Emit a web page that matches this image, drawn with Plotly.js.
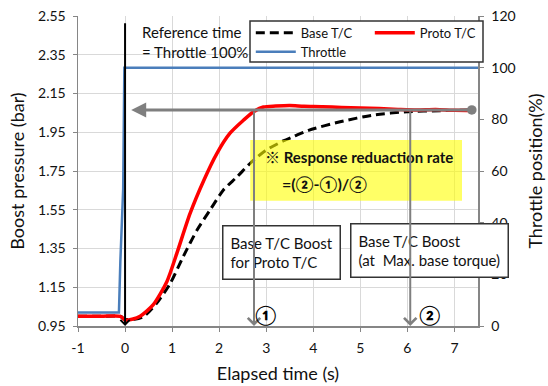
<!DOCTYPE html>
<html>
<head>
<meta charset="utf-8">
<script src="https://cdn.plot.ly/plotly-3.0.1.min.js"></script>
<style>html,body{margin:0;padding:0;background:#fff;}#chart{width:548px;height:386px;}</style>
</head>
<body>
<div id="chart"></div>
<script>
// Elapsed time (s) and boost pressure (bar) for each turbocharger
const baseTime  = [-1, -0.5, -0.1, 0, 0.2, 0.39, 0.67, 0.96, 1.24, 1.53, 1.81, 2.09, 2.38, 2.66, 2.98, 3.36, 3.6, 3.9, 4.57, 5.28, 6.0, 6.7, 7.4];
const baseBoost = [1.0, 1.0, 1.0, 0.985, 0.985, 0.998, 1.067, 1.17, 1.31, 1.445, 1.55, 1.652, 1.72, 1.79, 1.855, 1.905, 1.93, 1.96, 2.004, 2.039, 2.056, 2.061, 2.065];

const protoTime  = [-1, -0.5, -0.1, 0, 0.15, 0.32, 0.6, 0.89, 1.1, 1.38, 1.67, 1.95, 2.23, 2.52, 2.73, 2.94, 3.2, 3.5, 3.8, 4.2, 4.6, 5.0, 5.4, 5.8, 6.2, 6.6, 7.0, 7.4];
const protoBoost = [1.0, 1.0, 1.0, 0.98, 0.985, 1.0, 1.06, 1.18, 1.325, 1.53, 1.70, 1.84, 1.945, 2.013, 2.056, 2.08, 2.085, 2.088, 2.084, 2.082, 2.078, 2.075, 2.072, 2.068, 2.065, 2.068, 2.063, 2.062];

// Throttle position (%)
const throttleTime = [-1, -0.13, -0.1, -0.04, -0.015, 7.5];
const throttlePos  = [5.2, 5.2, 25, 53, 100, 100];

// Reference markers (s) and target boost level (bar)
const markTimes  = [2.74, 6.06];
const markLabels = ['①', '②'];
const targetBoost = 2.065;

const seriesNames = ['Base T/C', 'Proto T/C', 'Throttle'];

// Tick labels
const xTickVals = [-1, 0, 1, 2, 3, 4, 5, 6, 7];
const xTickText = ['-1', '0', '1', '2', '3', '4', '5', '6', '7'];

const FONT = "Lato, 'Noto Sans CJK JP', sans-serif";
const TXT = '#111';

const traces = [
  {x: baseTime, y: baseBoost, name: seriesNames[0], type: 'scatter', mode: 'lines',
   line: {color: '#000000', width: 3, dash: '9px,5px', shape: 'spline', smoothing: 0.7}, legend: 'legend'},
  {x: protoTime, y: protoBoost, name: seriesNames[1], type: 'scatter', mode: 'lines',
   line: {color: '#ff0000', width: 3.5, shape: 'spline', smoothing: 0.7}, legend: 'legend'},
  {x: throttleTime, y: throttlePos, name: seriesNames[2], type: 'scatter', mode: 'lines',
   line: {color: '#4a7ebb', width: 2.5}, yaxis: 'y2', legend: 'legend2'}
];

const annotations = [
  {x: 0.32, y: 2.525, xref: 'x', yref: 'y', xanchor: 'left', yanchor: 'top', align: 'left',
   text: 'Reference time<br>= Throttle 100%', showarrow: false, font: {size: 15, color: TXT}},
  // black reference line at t = 0
  {x: 0, y: 0.95, xref: 'x', yref: 'y', ax: 0, ay: 2.52, axref: 'x', ayref: 'y', text: '',
   showarrow: true, arrowhead: 4, arrowsize: 0.9, arrowwidth: 2, arrowcolor: '#000', standoff: 0},
  // horizontal gray arrow at target boost
  {x: 0.13, y: targetBoost, xref: 'x', yref: 'y', ax: 7.4, ay: targetBoost, axref: 'x', ayref: 'y', text: '',
   showarrow: true, arrowhead: 2, arrowsize: 1, arrowwidth: 3, arrowcolor: '#7f7f7f', standoff: 0,
   arrowside: 'end+start', startarrowhead: 6, startarrowsize: 0.8, startstandoff: 0},
  {x: 2.057, y: 1.471, xref: 'x', yref: 'y', xanchor: 'left', yanchor: 'top', align: 'left',
   text: 'Base T/C Boost<br>for Proto T/C', showarrow: false, bgcolor: '#ffffff', bordercolor: '#333',
   borderwidth: 1.5, borderpad: 7, font: {size: 15, color: TXT}},
  {x: 4.787, y: 1.482, xref: 'x', yref: 'y', xanchor: 'left', yanchor: 'top', align: 'left',
   text: 'Base T/C Boost<br>(at \u00a0Max. base torque)', showarrow: false, bgcolor: '#ffffff', bordercolor: '#333',
   borderwidth: 1.5, borderpad: 7, font: {size: 15, color: TXT}},
  {x: 2.94, y: 1.822, xref: 'x', yref: 'y', xanchor: 'left', yanchor: 'middle', align: 'left',
   text: '<b>※ Response reduaction rate</b>', showarrow: false, font: {size: 15, color: TXT}},
  {x: 3.30, y: 1.688, xref: 'x', yref: 'y', xanchor: 'left', yanchor: 'middle', align: 'left',
   text: '<b>=(②-①)/②</b>', showarrow: false, font: {size: 16, color: TXT}}
];
markTimes.forEach((t, i) => {
  annotations.push({x: t, y: 0.95, xref: 'x', yref: 'y', ax: t, ay: targetBoost, axref: 'x', ayref: 'y', text: '',
    showarrow: true, arrowhead: 4, arrowsize: 1.2, arrowwidth: 2, arrowcolor: '#7f7f7f', standoff: 0});
  annotations.push({x: t + (i === 0 ? 0.25 : 0.4), y: 1.01, xref: 'x', yref: 'y', text: '<b>' + markLabels[i] + '</b>',
    showarrow: false, font: {size: 19, color: '#000'}});
});

const layout = {
  width: 548, height: 386,
  margin: {l: 78, r: 70, t: 16, b: 60},
  paper_bgcolor: '#fff', plot_bgcolor: '#fff',
  font: {family: FONT, color: TXT, size: 14},
  showlegend: true,
  xaxis: {range: [-1, 7.5], tickmode: 'array', tickvals: xTickVals, ticktext: xTickText,
    showgrid: true, gridcolor: '#d9d9d9', gridwidth: 1,
    zeroline: false, showline: true, linecolor: '#868686', linewidth: 1.5, ticks: 'outside', ticklen: 4,
    tickcolor: '#868686', tickfont: {size: 14, color: TXT}, ticklabelstandoff: 5,
    title: {text: 'Elapsed time (s)', font: {size: 18, color: TXT}, standoff: 12}},
  yaxis: {range: [0.95, 2.55], tick0: 0.95, dtick: 0.2, tickformat: '.2f', showgrid: true, gridcolor: '#d9d9d9',
    zeroline: false, showline: true, linecolor: '#868686', linewidth: 1.5, ticks: 'outside', ticklen: 4,
    tickcolor: '#868686', tickfont: {size: 14, color: TXT}, ticklabelstandoff: 4,
    title: {text: 'Boost pressure (bar)', font: {size: 18, color: TXT}, standoff: 8}},
  yaxis2: {range: [0, 120], dtick: 20, overlaying: 'y', side: 'right', showgrid: false, zeroline: false,
    showline: true, linecolor: '#868686', linewidth: 1.5, ticks: 'outside', ticklen: 4, tickcolor: '#868686',
    tickfont: {size: 14, color: TXT}, ticklabelstandoff: 5,
    title: {text: 'Throttle position(%)', font: {size: 18, color: TXT}, standoff: 14}},
  legend: {orientation: 'h', x: 0.432, y: 0.994, xanchor: 'left', yanchor: 'top', bgcolor: 'rgba(0,0,0,0)',
    borderwidth: 0, itemwidth: 40, entrywidth: 64, font: {size: 13, color: TXT}, traceorder: 'normal'},
  legend2: {orientation: 'h', x: 0.432, y: 0.933, xanchor: 'left', yanchor: 'top', bgcolor: 'rgba(0,0,0,0)',
    borderwidth: 0, itemwidth: 40, font: {size: 13, color: TXT}},
  shapes: [
    {type: 'rect', xref: 'paper', yref: 'paper', x0: 0.43, x1: 1.0125, y0: 0.852, y1: 0.984,
     line: {color: '#333', width: 1.5}, fillcolor: '#ffffff', layer: 'above'},
    {type: 'rect', xref: 'x', yref: 'y', x0: 2.66, x1: 7.16, y0: 1.597, y1: 1.91,
     line: {width: 0}, fillcolor: 'rgba(255,255,0,0.6)', layer: 'above'}
  ],
  annotations: annotations
};

Plotly.newPlot('chart', traces, layout, {displayModeBar: false, staticPlot: true});
</script>
</body>
</html>
